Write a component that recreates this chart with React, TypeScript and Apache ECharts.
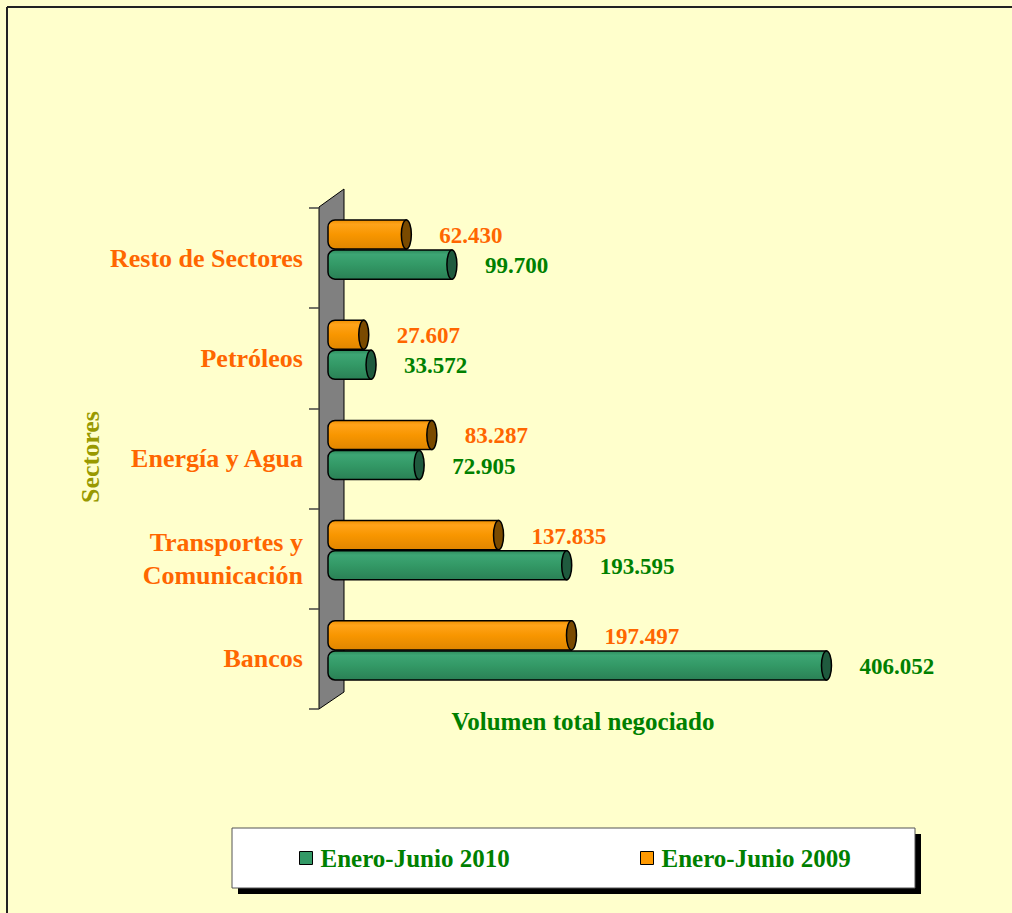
import React, { useEffect, useRef } from "react";
import * as echarts from "echarts";

const categories = ["Bancos", "Transportes y\nComunicación", "Energía y Agua", "Petróleos", "Resto de Sectores"];
const values2010 = [406.052, 193.595, 72.905, 33.572, 99.7];
const values2009 = [197.497, 137.835, 83.287, 27.607, 62.43];
const seriesNames = ["Enero-Junio 2010", "Enero-Junio 2009"];
const xAxisMin = -9;
const xAxisMax = 450;

const SERIF = '"Liberation Serif", "Times New Roman", serif';
const fmt = (v: number) => v.toFixed(3);

const GREEN = "#339966";
const ORANGE = "#FF9900";

function makeRender(offsetFrac: number, grad: any, capColor: string, labelColor: string) {
  return (params: any, api: any) => {
    const v = api.value(0) as number;
    const c = api.value(1);
    const p0 = api.coord([0, c]);
    const p1 = api.coord([v, c]);
    const band = api.size([0, 1])[1];
    const h = band * 0.29;
    const top = p0[1] + band * offsetFrac;
    const cy = top + h / 2;
    return {
      type: "group",
      children: [
        {
          type: "rect",
          shape: { x: p0[0] - 2, y: top, width: p1[0] - p0[0] + 2, height: h, r: [7, 0, 0, 7] },
          style: { fill: grad, stroke: "#000", lineWidth: 1.5 },
        },
        {
          type: "ellipse",
          shape: { cx: p1[0], cy, rx: 5, ry: h / 2 },
          style: { fill: capColor, stroke: "#000", lineWidth: 1.5 },
        },
        {
          type: "text",
          x: p1[0] + 33,
          y: cy + 1,
          style: {
            text: fmt(v),
            fill: labelColor,
            font: `bold 23px ${SERIF}`,
            align: "left",
            verticalAlign: "middle",
          },
        },
      ],
    };
  };
}

export default function App() {
  const ref = useRef<HTMLDivElement>(null);
  useEffect(() => {
    if (!ref.current) return;
    const chart = echarts.init(ref.current, null, { renderer: "svg" });
    const greenGrad = new echarts.graphic.LinearGradient(0, 0, 0, 1, [
      { offset: 0, color: "#2E8C5C" },
      { offset: 0.15, color: "#3DA574" },
      { offset: 0.5, color: "#339966" },
      { offset: 1, color: "#2A8055" },
    ]);
    const orangeGrad = new echarts.graphic.LinearGradient(0, 0, 0, 1, [
      { offset: 0, color: "#F09000" },
      { offset: 0.15, color: "#FFA31A" },
      { offset: 0.5, color: "#F89600" },
      { offset: 1, color: "#E08600" },
    ]);
    const pxPerUnit = 1.2227;
    chart.setOption({
      animation: false,
      backgroundColor: "#FFFFCC",
      grid: { left: 319, top: 208, bottom: 204, right: 1012 - 319 - (xAxisMax - xAxisMin) * pxPerUnit },
      xAxis: {
        type: "value",
        min: xAxisMin,
        max: xAxisMax,
        show: false,
        splitLine: { show: false },
      },
      yAxis: {
        type: "category",
        data: categories,
        z: 5,
        axisLine: { show: false, onZero: false },
        axisTick: { show: true, length: 10, lineStyle: { color: "#444", width: 1.5 } },
        axisLabel: {
          margin: 16,
          color: "#FF6600",
          fontFamily: SERIF,
          fontWeight: "bold",
          fontSize: 26,
          lineHeight: 33,
          align: "right",
        },
      },
      legend: [
        {
          left: 299,
          top: 845,
          padding: 0,
          itemWidth: 13,
          itemHeight: 13,
          data: [
            { name: seriesNames[0], icon: "rect", itemStyle: { color: GREEN, borderColor: "#000", borderWidth: 1 } },
          ],
          textStyle: { color: "#008000", fontFamily: SERIF, fontWeight: "bold", fontSize: 25, lineHeight: 26, padding: [0, 0, 0, 3] },
        },
        {
          left: 640,
          top: 845,
          padding: 0,
          itemWidth: 13,
          itemHeight: 13,
          data: [
            { name: seriesNames[1], icon: "rect", itemStyle: { color: ORANGE, borderColor: "#000", borderWidth: 1 } },
          ],
          textStyle: { color: "#008000", fontFamily: SERIF, fontWeight: "bold", fontSize: 25, lineHeight: 26, padding: [0, 0, 0, 3] },
        },
      ],
      graphic: [
        { type: "line", z: 0, shape: { x1: 7, y1: 7, x2: 1012, y2: 7 }, style: { stroke: "#222", lineWidth: 2 } },
        { type: "line", z: 0, shape: { x1: 7, y1: 7, x2: 7, y2: 913 }, style: { stroke: "#222", lineWidth: 2 } },
        {
          type: "polygon",
          z: 0,
          shape: { points: [[319, 207], [344, 189], [344, 692], [319, 709]] },
          style: { fill: "#808080", stroke: "#000", lineWidth: 1 },
        },
        {
          type: "text",
          z: 1,
          x: 90,
          y: 457,
          rotation: Math.PI / 2,
          style: {
            text: "Sectores",
            fill: "#999900",
            font: `bold 26px ${SERIF}`,
            align: "center",
            verticalAlign: "middle",
          },
        },
        {
          type: "text",
          z: 1,
          x: 583,
          y: 721,
          style: {
            text: "Volumen total negociado",
            fill: "#008000",
            font: `bold 25px ${SERIF}`,
            align: "center",
            verticalAlign: "middle",
          },
        },
        { type: "rect", z: 1, shape: { x: 238, y: 834, width: 683, height: 60 }, style: { fill: "#000" } },
        { type: "rect", z: 1, shape: { x: 232, y: 828, width: 683, height: 60 }, style: { fill: "#FFFFFF", stroke: "#555", lineWidth: 1 } },
      ],
      series: [
        {
          name: seriesNames[0],
          type: "custom",
          itemStyle: { color: GREEN },
          encode: { x: 0, y: 1 },
          data: values2010.map((v, i) => [v, i]),
          renderItem: makeRender(-0.08, greenGrad, "#1F5A3E", "#008000"),
        },
        {
          name: seriesNames[1],
          type: "custom",
          itemStyle: { color: ORANGE },
          encode: { x: 0, y: 1 },
          data: values2009.map((v, i) => [v, i]),
          renderItem: makeRender(-0.38, orangeGrad, "#7A4A00", "#FF6600"),
        },
      ],
    });
    return () => chart.dispose();
  }, []);
  return <div ref={ref} style={{ position: "fixed", left: 0, top: 0, width: 1012, height: 913 }} />;
}
